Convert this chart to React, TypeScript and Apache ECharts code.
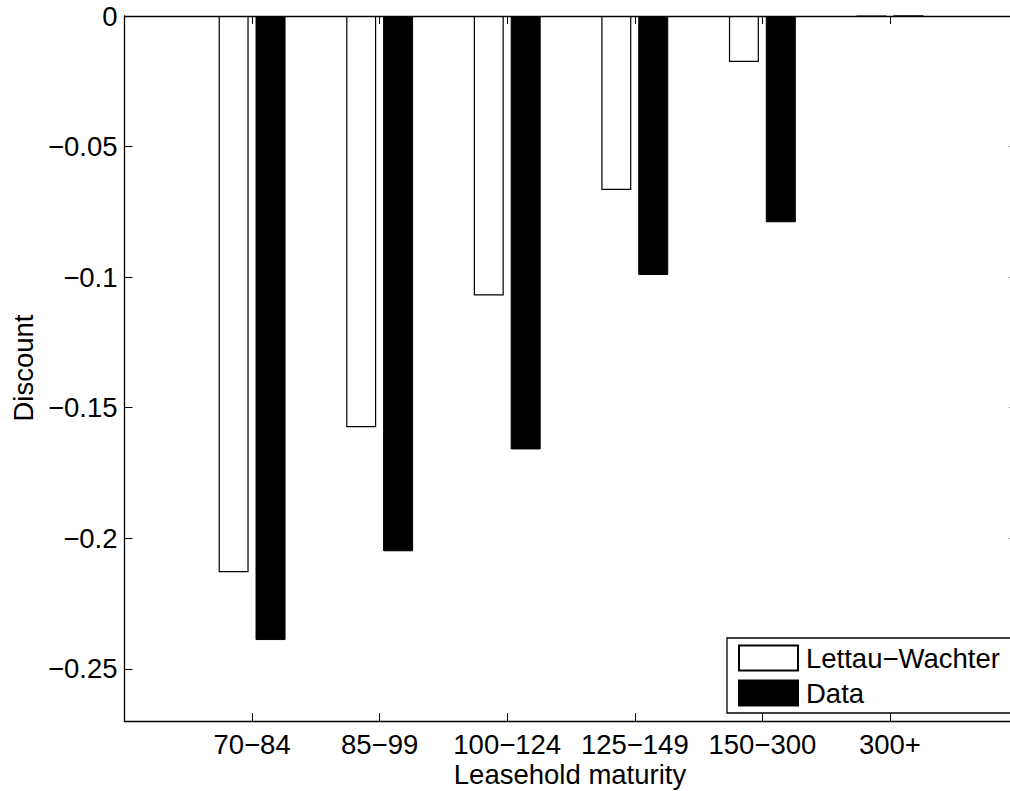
import React, { useEffect, useRef } from "react";
import * as echarts from "echarts";

const categories = ["70−84", "85−99", "100−124", "125−149", "150−300", "300+"];
const lettauWachter = [-0.213, -0.1575, -0.107, -0.0666, -0.0176, 0];
const dataValues = [-0.239, -0.205, -0.166, -0.0992, -0.079, 0];
const yTicks = [0, -0.05, -0.1, -0.15, -0.2, -0.25];
const yTickLabels = ["0", "−0.05", "−0.1", "−0.15", "−0.2", "−0.25"];
const xPositions = [1, 2, 3, 4, 5, 6];

const FONT = "Liberation Sans, Arial, Helvetica, sans-serif";

export default function App() {
  const ref = useRef<HTMLDivElement>(null);
  useEffect(() => {
    if (!ref.current) return;
    const chart = echarts.init(ref.current, undefined, { renderer: "svg" });
    const gridLeft = 124.5;
    const gridTop = 16;
    const gridWidth = 893;
    const gridHeight = 705;
    const axisLineStyle = { color: "#000", width: 1.3 };
    chart.setOption({
      animation: false,
      backgroundColor: "#fff",
      textStyle: { fontFamily: FONT, color: "#000" },
      grid: {
        left: gridLeft,
        top: gridTop,
        width: gridWidth,
        height: gridHeight,
        containLabel: false,
        outerBoundsMode: "none",
      },
      legend: {
        orient: "vertical",
        left: 727,
        top: 638,
        padding: [6, 11, 6, 11],
        itemWidth: 59,
        itemHeight: 25,
        itemGap: 7,
        borderColor: "#000",
        borderWidth: 1.3,
        backgroundColor: "#fff",
        icon: "rect",
        textStyle: { fontSize: 27.5, fontFamily: FONT, color: "#000", padding: [0, 0, 0, 3] },
        data: ["Lettau−Wachter", "Data"],
      },
      xAxis: [
        {
          type: "value",
          position: "bottom",
          min: 0,
          max: 7,
          axisLine: { show: true, onZero: false, lineStyle: axisLineStyle },
          axisTick: { show: true, inside: true, length: 8, customValues: xPositions, lineStyle: { color: "#000" } },
          axisLabel: {
            show: true,
            customValues: xPositions,
            margin: 9,
            fontSize: 27.5,
            fontFamily: FONT,
            color: "#000",
            formatter: (v: number) => categories[Math.round(v) - 1] ?? "",
          },
          splitLine: { show: false },
        },
        {
          type: "value",
          position: "top",
          min: 0,
          max: 7,
          axisLine: { show: true, onZero: false, lineStyle: axisLineStyle },
          axisTick: { show: true, inside: true, length: 8, customValues: xPositions, lineStyle: { color: "#000" } },
          axisLabel: { show: false },
          splitLine: { show: false },
        },
      ],
      yAxis: [
        {
          type: "value",
          position: "left",
          min: -0.27,
          max: 0,
          axisLine: { show: true, onZero: false, lineStyle: axisLineStyle },
          axisTick: { show: true, inside: true, length: 8, customValues: yTicks, lineStyle: { color: "#000" } },
          axisLabel: {
            show: true,
            customValues: yTicks,
            margin: 7,
            fontSize: 27.5,
            fontFamily: FONT,
            color: "#000",
            formatter: (v: number) => {
              const i = yTicks.findIndex((t) => Math.abs(t - v) < 1e-9);
              return i >= 0 ? yTickLabels[i] : "";
            },
          },
          splitLine: { show: false },
        },
        {
          type: "value",
          position: "right",
          min: -0.27,
          max: 0,
          axisLine: { show: true, onZero: false, lineStyle: axisLineStyle },
          axisTick: { show: true, inside: true, length: 8, customValues: yTicks, lineStyle: { color: "#000" } },
          axisLabel: { show: false },
          splitLine: { show: false },
        },
      ],
      series: [
        {
          name: "Lettau−Wachter",
          type: "bar",
          xAxisIndex: 0,
          yAxisIndex: 0,
          barWidth: 30,
          barGap: "23%",
          itemStyle: { color: "#fff", borderColor: "#000", borderWidth: 1.2 },
          data: xPositions.map((x, i) => [x, lettauWachter[i]]),
        },
        {
          name: "Data",
          type: "bar",
          xAxisIndex: 0,
          yAxisIndex: 0,
          barWidth: 30,
          barGap: "23%",
          itemStyle: { color: "#000", borderColor: "#000", borderWidth: 1 },
          data: xPositions.map((x, i) => [x, dataValues[i]]),
        },
      ],
      graphic: [
        {
          type: "text",
          x: 23,
          y: 368,
          rotation: Math.PI / 2,
          style: {
            text: "Discount",
            fontSize: 27.5,
            fontFamily: FONT,
            fill: "#000",
            align: "center",
            verticalAlign: "middle",
          },
        },
        {
          type: "text",
          x: 570,
          y: 774,
          style: {
            text: "Leasehold maturity",
            fontSize: 27.5,
            fontFamily: FONT,
            fill: "#000",
            align: "center",
            verticalAlign: "middle",
          },
        },
      ],
    });
    return () => chart.dispose();
  }, []);
  return (
    <div style={{ position: "absolute", left: 0, top: 0, width: 1010, height: 791, overflow: "hidden", background: "#fff" }}>
      <div ref={ref} style={{ width: 1020, height: 791 }} />
    </div>
  );
}
